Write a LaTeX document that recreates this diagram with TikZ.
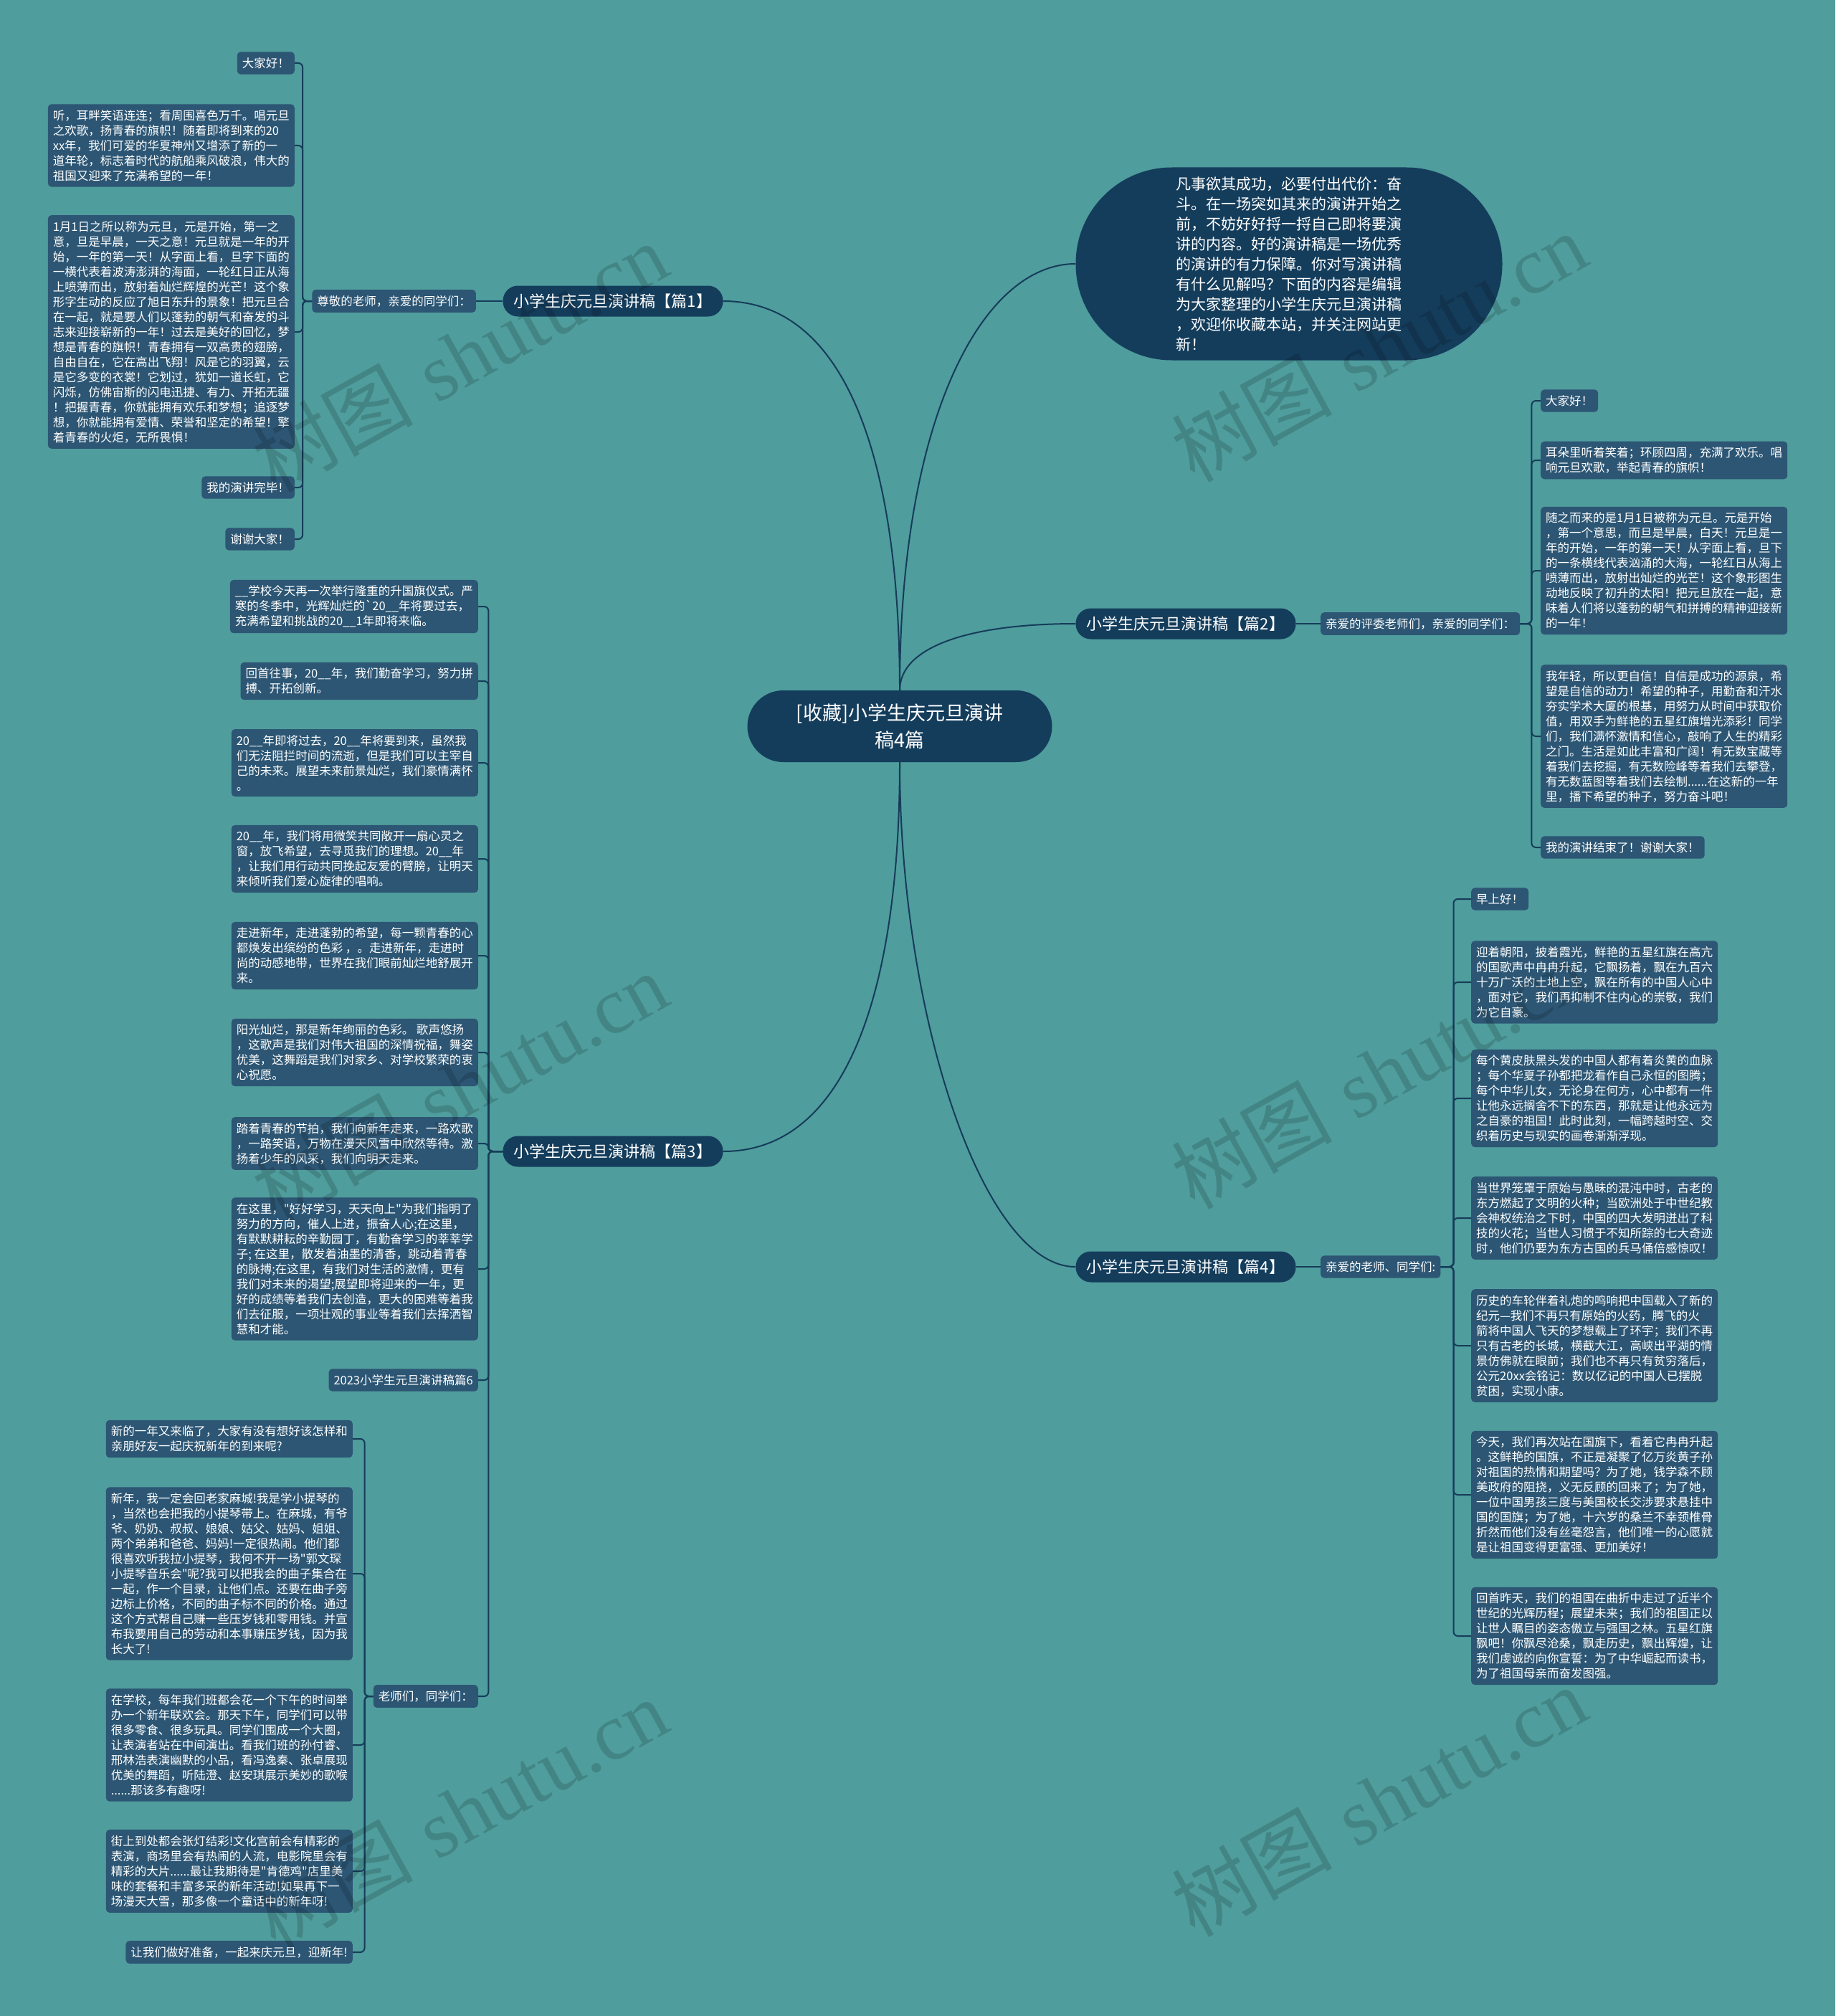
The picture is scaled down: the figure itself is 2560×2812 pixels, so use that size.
\documentclass[tikz,border=0pt]{standalone}
\usepackage{fontspec}
\usepackage{tikz}
\usepackage{xcolor}

\newfontfamily\cjk{Noto Sans CJK SC}
\newfontfamily\wmserif{Liberation Serif}

\definecolor{bgteal}{HTML}{4F9D9D}
\definecolor{notefill}{HTML}{2C5674}
\definecolor{topicfill}{HTML}{143D5C}
\definecolor{linkcol}{HTML}{163C5A}

\begin{document}
\begin{tikzpicture}[
    x=1pt, y=-1pt,
    root/.style={
        fill=topicfill,
        text=white,
        rounded corners=50pt,
        minimum width=425pt,
        minimum height=100pt,
        align=center,
        font=\cjk\fontsize{27pt}{38pt}\selectfont
    },
    intro/.style={
        fill=topicfill,
        text=white,
        rounded corners=134pt,
        minimum width=595pt,
        minimum height=269pt,
        align=left,
        font=\cjk\fontsize{21pt}{28pt}\selectfont
    },
    topic/.style={
        fill=topicfill,
        text=white,
        rounded corners=21pt,
        minimum width=307pt,
        minimum height=43pt,
        font=\cjk\fontsize{22pt}{26pt}\selectfont
    },
    note/.style={
        fill=notefill,
        text=white,
        rounded corners=5pt,
        inner xsep=7pt,
        inner ysep=8pt,
        align=left,
        font=\cjk\fontsize{16.5pt}{21pt}\selectfont
    },
    link/.style={draw=linkcol, line width=2pt},
    spine/.style={link, rounded corners=6pt},
    stamp/.style={text=black, text opacity=0.15, rotate=29,
        font=\fontsize{112pt}{112pt}\selectfont}
]
    \useasboundingbox (0,0) rectangle (2560,2812);
    \fill[bgteal] (0,0) rectangle (2560,2812);

    \node[root] (root) at (1255,1013) {[收藏]小学生庆元旦演讲\\稿4篇};
    \node[intro] (intro) at (1798,368)
        {凡事欲其成功，必要付出代价：奋\\斗。在一场突如其来的演讲开始之\\前，不妨好好捋一捋自己即将要演\\讲的内容。好的演讲稿是一场优秀\\的演讲的有力保障。你对写演讲稿\\有什么见解吗？下面的内容是编辑\\为大家整理的小学生庆元旦演讲稿\\，欢迎你收藏本站，并关注网站更\\新！};
    \node[topic] (partone) at (855,420) {小学生庆元旦演讲稿【篇1】};
    \node[topic] (parttwo) at (1654,870) {小学生庆元旦演讲稿【篇2】};
    \node[topic] (partthree) at (855,1606) {小学生庆元旦演讲稿【篇3】};
    \node[topic] (partfour) at (1654,1767) {小学生庆元旦演讲稿【篇4】};

    \draw[link] (root.north) .. controls +(0,-300) and +(180,0) .. (partone.east);
    \draw[link] (root.north) .. controls +(0,-380) and +(-130,0) .. (intro.west);
    \draw[link] (root.north) .. controls +(0,-60) and +(-150,0) .. (parttwo.west);
    \draw[link] (root.south) .. controls +(0,300) and +(180,0) .. (partthree.east);
    \draw[link] (root.south) .. controls +(0,350) and +(-130,0) .. (partfour.west);

    \node[note, anchor=east] (hailone) at (664,420) {尊敬的老师，亲爱的同学们：};
    \node[note, anchor=east] (onea) at (411,88) {大家好！};
    \node[note, anchor=east] (oneb) at (411,203)
        {听，耳畔笑语连连；看周围喜色万千。唱元旦\\之欢歌，扬青春的旗帜！随着即将到来的20\\xx年，我们可爱的华夏神州又增添了新的一\\道年轮，标志着时代的航船乘风破浪，伟大的\\祖国又迎来了充满希望的一年！};
    \node[note, anchor=east] (onec) at (411,463)
        {1月1日之所以称为元旦，元是开始，第一之\\意，旦是早晨，一天之意！元旦就是一年的开\\始，一年的第一天！从字面上看，旦字下面的\\一横代表着波涛澎湃的海面，一轮红日正从海\\上喷薄而出，放射着灿烂辉煌的光芒！这个象\\形字生动的反应了旭日东升的景象！把元旦合\\在一起，就是要人们以蓬勃的朝气和奋发的斗\\志来迎接崭新的一年！过去是美好的回忆，梦\\想是青春的旗帜！青春拥有一双高贵的翅膀，\\自由自在，它在高出飞翔！风是它的羽翼，云\\是它多变的衣裳！它划过，犹如一道长虹，它\\闪烁，仿佛宙斯的闪电迅捷、有力、开拓无疆\\！把握青春，你就能拥有欢乐和梦想；追逐梦\\想，你就能拥有爱情、荣誉和坚定的希望！擎\\着青春的火炬，无所畏惧！};
    \node[note, anchor=east] (oned) at (411,680) {我的演讲完毕！};
    \node[note, anchor=east] (onee) at (411,752) {谢谢大家！};

    \draw[link] (partone.west) -- (hailone.east);
    \draw[spine] (hailone.west) -- ++(-13,0) |- (onea.east);
    \draw[spine] (hailone.west) -- ++(-13,0) |- (oneb.east);
    \draw[spine] (hailone.west) -- ++(-13,0) |- (onec.east);
    \draw[spine] (hailone.west) -- ++(-13,0) |- (oned.east);
    \draw[spine] (hailone.west) -- ++(-13,0) |- (onee.east);

    \node[note, anchor=east] (threea) at (667,846)
        {\_\_学校今天再一次举行隆重的升国旗仪式。严\\寒的冬季中，光辉灿烂的\symbol{96}20\_\_年将要过去，\\充满希望和挑战的20\_\_1年即将来临。};
    \node[note, anchor=east] (threeb) at (667,950)
        {回首往事，20\_\_年，我们勤奋学习，努力拼\\搏、开拓创新。};
    \node[note, anchor=east] (threec) at (667,1064)
        {20\_\_年即将过去，20\_\_年将要到来，虽然我\\们无法阻拦时间的流逝，但是我们可以主宰自\\己的未来。展望未来前景灿烂，我们豪情满怀\\。};
    \node[note, anchor=east] (threed) at (667,1198)
        {20\_\_年，我们将用微笑共同敞开一扇心灵之\\窗，放飞希望，去寻觅我们的理想。20\_\_年\\，让我们用行动共同挽起友爱的臂膀，让明天\\来倾听我们爱心旋律的唱响。};
    \node[note, anchor=east] (threee) at (667,1333)
        {走进新年，走进蓬勃的希望，每一颗青春的心\\都焕发出缤纷的色彩 ，。走进新年，走进时\\尚的动感地带，世界在我们眼前灿烂地舒展开\\来。};
    \node[note, anchor=east] (threef) at (667,1468)
        {阳光灿烂，那是新年绚丽的色彩。 歌声悠扬\\，这歌声是我们对伟大祖国的深情祝福，舞姿\\优美，这舞蹈是我们对家乡、对学校繁荣的衷\\心祝愿。};
    \node[note, anchor=east] (threeg) at (667,1595)
        {踏着青春的节拍，我们向新年走来，一路欢歌\\，一路笑语，万物在漫天风雪中欣然等待。激\\扬着少年的风采，我们向明天走来。};
    \node[note, anchor=east] (threeh) at (667,1770)
        {在这里，"好好学习，天天向上"为我们指明了\\努力的方向，催人上进，振奋人心;在这里，\\有默默耕耘的辛勤园丁，有勤奋学习的莘莘学\\子; 在这里，散发着油墨的清香，跳动着青春\\的脉搏;在这里，有我们对生活的激情，更有\\我们对未来的渴望;展望即将迎来的一年，更\\好的成绩等着我们去创造，更大的困难等着我\\们去征服，一项壮观的事业等着我们去挥洒智\\慧和才能。};
    \node[note, anchor=east] (threei) at (667,1925) {2023小学生元旦演讲稿篇6};
    \node[note, anchor=east] (sixhail) at (667,2366) {老师们，同学们：};

    \draw[spine] (partthree.west) -- ++(-20,0) |- (threea.east);
    \draw[spine] (partthree.west) -- ++(-20,0) |- (threeb.east);
    \draw[spine] (partthree.west) -- ++(-20,0) |- (threec.east);
    \draw[spine] (partthree.west) -- ++(-20,0) |- (threed.east);
    \draw[spine] (partthree.west) -- ++(-20,0) |- (threee.east);
    \draw[spine] (partthree.west) -- ++(-20,0) |- (threef.east);
    \draw[spine] (partthree.west) -- ++(-20,0) |- (threeg.east);
    \draw[spine] (partthree.west) -- ++(-20,0) |- (threeh.east);
    \draw[spine] (partthree.west) -- ++(-20,0) |- (threei.east);
    \draw[spine] (partthree.west) -- ++(-20,0) |- (sixhail.east);

    \node[note, anchor=east] (sixa) at (492,2007)
        {新的一年又来临了，大家有没有想好该怎样和\\亲朋好友一起庆祝新年的到来呢?};
    \node[note, anchor=east] (sixb) at (492,2195)
        {新年，我一定会回老家麻城!我是学小提琴的\\，当然也会把我的小提琴带上。在麻城，有爷\\爷、奶奶、叔叔、娘娘、姑父、姑妈、姐姐、\\两个弟弟和爸爸、妈妈!一定很热闹。他们都\\很喜欢听我拉小提琴，我何不开一场"郭文琛\\小提琴音乐会"呢?我可以把我会的曲子集合在\\一起，作一个目录，让他们点。还要在曲子旁\\边标上价格，不同的曲子标不同的价格。通过\\这个方式帮自己赚一些压岁钱和零用钱。并宣\\布我要用自己的劳动和本事赚压岁钱，因为我\\长大了!};
    \node[note, anchor=east] (sixc) at (492,2434)
        {在学校，每年我们班都会花一个下午的时间举\\办一个新年联欢会。那天下午，同学们可以带\\很多零食、很多玩具。同学们围成一个大圈，\\让表演者站在中间演出。看我们班的孙付睿、\\邢林浩表演幽默的小品，看冯逸秦、张卓展现\\优美的舞蹈，听陆澄、赵安琪展示美妙的歌喉\\......那该多有趣呀!};
    \node[note, anchor=east] (sixd) at (492,2610)
        {街上到处都会张灯结彩!文化宫前会有精彩的\\表演，商场里会有热闹的人流，电影院里会有\\精彩的大片......最让我期待是"肯德鸡"店里美\\味的套餐和丰富多采的新年活动!如果再下一\\场漫天大雪，那多像一个童话中的新年呀!};
    \node[note, anchor=east] (sixe) at (492,2723) {让我们做好准备，一起来庆元旦，迎新年!};

    \draw[spine] (sixhail.west) -- ++(-12,0) |- (sixa.east);
    \draw[spine] (sixhail.west) -- ++(-12,0) |- (sixb.east);
    \draw[spine] (sixhail.west) -- ++(-12,0) |- (sixc.east);
    \draw[spine] (sixhail.west) -- ++(-12,0) |- (sixd.east);
    \draw[spine] (sixhail.west) -- ++(-12,0) |- (sixe.east);

    \node[note, anchor=west] (hailtwo) at (1842,870) {亲爱的评委老师们，亲爱的同学们：};
    \node[note, anchor=west] (twoa) at (2149,559) {大家好！};
    \node[note, anchor=west] (twob) at (2149,642)
        {耳朵里听着笑着；环顾四周，充满了欢乐。唱\\响元旦欢歌，举起青春的旗帜！};
    \node[note, anchor=west] (twoc) at (2149,796)
        {随之而来的是1月1日被称为元旦。元是开始\\，第一个意思，而旦是早晨，白天！元旦是一\\年的开始，一年的第一天！从字面上看，旦下\\的一条横线代表汹涌的大海，一轮红日从海上\\喷薄而出，放射出灿烂的光芒！这个象形图生\\动地反映了初升的太阳！把元旦放在一起，意\\味着人们将以蓬勃的朝气和拼搏的精神迎接新\\的一年！};
    \node[note, anchor=west] (twod) at (2149,1027)
        {我年轻，所以更自信！自信是成功的源泉，希\\望是自信的动力！希望的种子，用勤奋和汗水\\夯实学术大厦的根基，用努力从时间中获取价\\值，用双手为鲜艳的五星红旗增光添彩！同学\\们，我们满怀激情和信心，敲响了人生的精彩\\之门。生活是如此丰富和广阔！有无数宝藏等\\着我们去挖掘，有无数险峰等着我们去攀登，\\有无数蓝图等着我们去绘制......在这新的一年\\里，播下希望的种子，努力奋斗吧！};
    \node[note, anchor=west] (twoe) at (2149,1182) {我的演讲结束了！谢谢大家！};

    \draw[link] (parttwo.east) -- (hailtwo.west);
    \draw[spine] (hailtwo.east) -- ++(16,0) |- (twoa.west);
    \draw[spine] (hailtwo.east) -- ++(16,0) |- (twob.west);
    \draw[spine] (hailtwo.east) -- ++(16,0) |- (twoc.west);
    \draw[spine] (hailtwo.east) -- ++(16,0) |- (twod.west);
    \draw[spine] (hailtwo.east) -- ++(16,0) |- (twoe.west);

    \node[note, anchor=west] (hailfour) at (1842,1767) {亲爱的老师、同学们:};
    \node[note, anchor=west] (foura) at (2052,1254) {早上好！};
    \node[note, anchor=west] (fourb) at (2052,1370)
        {迎着朝阳，披着霞光，鲜艳的五星红旗在高亢\\的国歌声中冉冉升起，它飘扬着，飘在九百六\\十万广沃的土地上空，飘在所有的中国人心中\\，面对它，我们再抑制不住内心的崇敬，我们\\为它自豪。};
    \node[note, anchor=west] (fourc) at (2052,1532)
        {每个黄皮肤黑头发的中国人都有着炎黄的血脉\\；每个华夏子孙都把龙看作自己永恒的图腾；\\每个中华儿女，无论身在何方，心中都有一件\\让他永远搁舍不下的东西，那就是让他永远为\\之自豪的祖国！此时此刻，一幅跨越时空、交\\织着历史与现实的画卷渐渐浮现。};
    \node[note, anchor=west] (fourd) at (2052,1699)
        {当世界笼罩于原始与愚昧的混沌中时，古老的\\东方燃起了文明的火种；当欧洲处于中世纪教\\会神权统治之下时，中国的四大发明迸出了科\\技的火花；当世人习惯于不知所踪的七大奇迹\\时，他们仍要为东方古国的兵马俑倍感惊叹！};
    \node[note, anchor=west] (foure) at (2052,1877)
        {历史的车轮伴着礼炮的鸣响把中国载入了新的\\纪元—我们不再只有原始的火药，腾飞的火\\箭将中国人飞天的梦想载上了环宇；我们不再\\只有古老的长城，横截大江，高峡出平湖的情\\景仿佛就在眼前；我们也不再只有贫穷落后，\\公元20xx会铭记：数以亿记的中国人已摆脱\\贫困，实现小康。};
    \node[note, anchor=west] (fourf) at (2052,2085)
        {今天，我们再次站在国旗下，看着它冉冉升起\\。这鲜艳的国旗，不正是凝聚了亿万炎黄子孙\\对祖国的热情和期望吗？为了她，钱学森不顾\\美政府的阻挠，义无反顾的回来了；为了她，\\一位中国男孩三度与美国校长交涉要求悬挂中\\国的国旗；为了她，十六岁的桑兰不幸颈椎骨\\折然而他们没有丝毫怨言，他们唯一的心愿就\\是让祖国变得更富强、更加美好！};
    \node[note, anchor=west] (fourg) at (2052,2282)
        {回首昨天，我们的祖国在曲折中走过了近半个\\世纪的光辉历程；展望未来；我们的祖国正以\\让世人瞩目的姿态傲立与强国之林。五星红旗\\飘吧！你飘尽沧桑，飘走历史，飘出辉煌，让\\我们虔诚的向你宣誓：为了中华崛起而读书，\\为了祖国母亲而奋发图强。};

    \draw[link] (partfour.east) -- (hailfour.west);
    \draw[spine] (hailfour.east) -- ++(18,0) |- (foura.west);
    \draw[spine] (hailfour.east) -- ++(18,0) |- (fourb.west);
    \draw[spine] (hailfour.east) -- ++(18,0) |- (fourc.west);
    \draw[spine] (hailfour.east) -- ++(18,0) |- (fourd.west);
    \draw[spine] (hailfour.east) -- ++(18,0) |- (foure.west);
    \draw[spine] (hailfour.east) -- ++(18,0) |- (fourf.west);
    \draw[spine] (hailfour.east) -- ++(18,0) |- (fourg.west);

    \node[stamp] (stampa) at (641,498) {{\cjk 树图} {\wmserif shutu.cn}};
    \node[stamp] (stampb) at (641,1516) {{\cjk 树图} {\wmserif shutu.cn}};
    \node[stamp] (stampc) at (641,2529) {{\cjk 树图} {\wmserif shutu.cn}};
    \node[stamp] (stampd) at (1923,484) {{\cjk 树图} {\wmserif shutu.cn}};
    \node[stamp] (stampe) at (1923,1498) {{\cjk 树图} {\wmserif shutu.cn}};
    \node[stamp] (stampf) at (1923,2512) {{\cjk 树图} {\wmserif shutu.cn}};
\end{tikzpicture}
\end{document}
